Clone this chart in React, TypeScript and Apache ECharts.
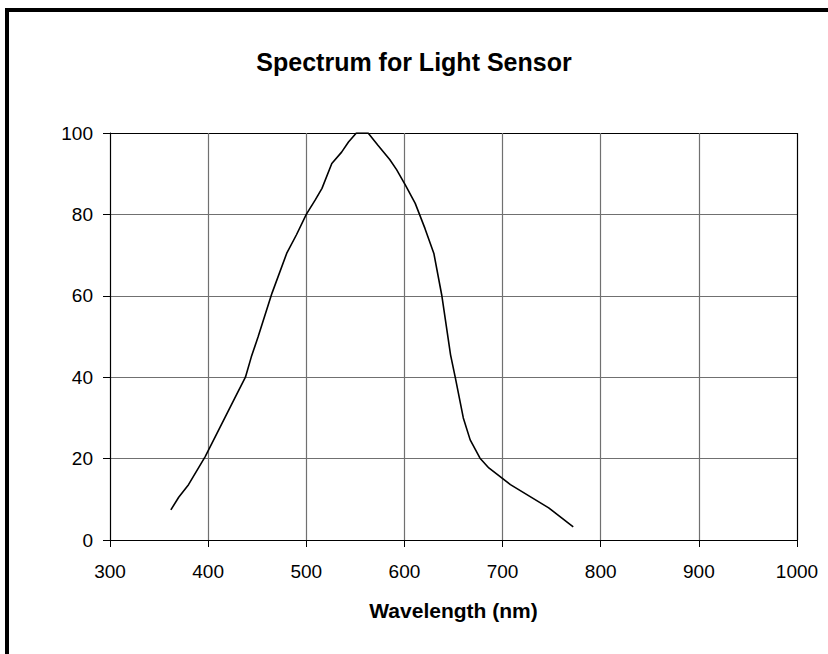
import React, { useEffect, useRef } from "react";
import * as echarts from "echarts";

const wavelengths = [362, 370, 380, 397, 427, 438, 444, 451, 465, 480, 490, 500, 509, 516, 526, 536, 543, 551, 563, 573, 585, 592, 601, 611, 621, 630, 638, 647, 652, 660, 667, 677, 686, 708, 747, 772];
const response = [7.4, 10.5, 13.6, 20.5, 34.8, 40, 45, 50, 60.6, 70.4, 75, 80, 83.5, 86.4, 92.5, 95.3, 97.8, 100, 100, 97, 93.5, 91, 87.2, 82.7, 76.5, 70.4, 60.2, 45.5, 39.7, 30, 24.6, 20.1, 17.7, 13.6, 7.9, 3.2];
const xTicks = [300, 400, 500, 600, 700, 800, 900, 1000];
const yTicks = [0, 20, 40, 60, 80, 100];

const GRID_GRAY = "#707070";
const FONT = "Liberation Sans, Arial, sans-serif";

export default function App() {
  const ref = useRef<HTMLDivElement>(null);
  useEffect(() => {
    if (!ref.current) return;
    const chart = echarts.init(ref.current, null, { renderer: "svg" });
    const xColors = xTicks.map((_, i) => (i === 0 || i === xTicks.length - 1 ? "#000" : GRID_GRAY));
    const yColors = yTicks.map((_, i) => (i === 0 || i === yTicks.length - 1 ? "#000" : GRID_GRAY));
    chart.setOption({
      animation: false,
      backgroundColor: "#fff",
      title: {
        text: "Spectrum for Light Sensor",
        left: 409,
        textAlign: "center",
        top: 44,
        textStyle: { fontFamily: FONT, fontWeight: "bold", fontSize: 25, color: "#000" },
      },
      grid: {
        left: 110,
        right: 31,
        top: 133,
        bottom: 114,
        outerBoundsMode: "none",
        containLabel: false,
      },
      xAxis: {
        type: "value",
        min: xTicks[0],
        max: xTicks[xTicks.length - 1],
        interval: 100,
        name: "Wavelength (nm)",
        nameLocation: "middle",
        nameGap: 60,
        nameTextStyle: { fontFamily: FONT, fontWeight: "bold", fontSize: 21, color: "#000" },
        axisLine: { show: true, lineStyle: { color: "#000", width: 1 } },
        axisTick: { show: true, length: 7, lineStyle: { color: "#000", width: 1 } },
        axisLabel: { fontFamily: FONT, fontSize: 19, color: "#000", margin: 22, formatter: (v: number) => String(v) },
        splitLine: { show: true, lineStyle: { color: xColors, width: 1.2 } },
      },
      yAxis: {
        type: "value",
        min: yTicks[0],
        max: yTicks[yTicks.length - 1],
        interval: 20,
        axisLine: { show: true, lineStyle: { color: "#000", width: 1 } },
        axisTick: { show: true, length: 7, lineStyle: { color: "#000", width: 1 } },
        axisLabel: { fontFamily: FONT, fontSize: 19, color: "#000", margin: 17, formatter: (v: number) => String(v) },
        splitLine: { show: true, lineStyle: { color: yColors, width: 1.2 } },
      },
      series: [
        {
          type: "line",
          data: wavelengths.map((w, i) => [w, response[i]]),
          showSymbol: false,
          symbol: "none",
          smooth: false,
          lineStyle: { color: "#000", width: 1.6 },
          z: 5,
        },
      ],
      graphic: [
        { type: "rect", shape: { x: 5, y: 8, width: 823, height: 4 }, style: { fill: "#000" } },
        { type: "rect", shape: { x: 5, y: 8, width: 4, height: 646 }, style: { fill: "#000" } },
      ],
    });
    return () => chart.dispose();
  }, []);
  return (
    <div
      ref={ref}
      style={{ position: "fixed", left: 0, top: 0, width: 828, height: 654 }}
    />
  );
}
